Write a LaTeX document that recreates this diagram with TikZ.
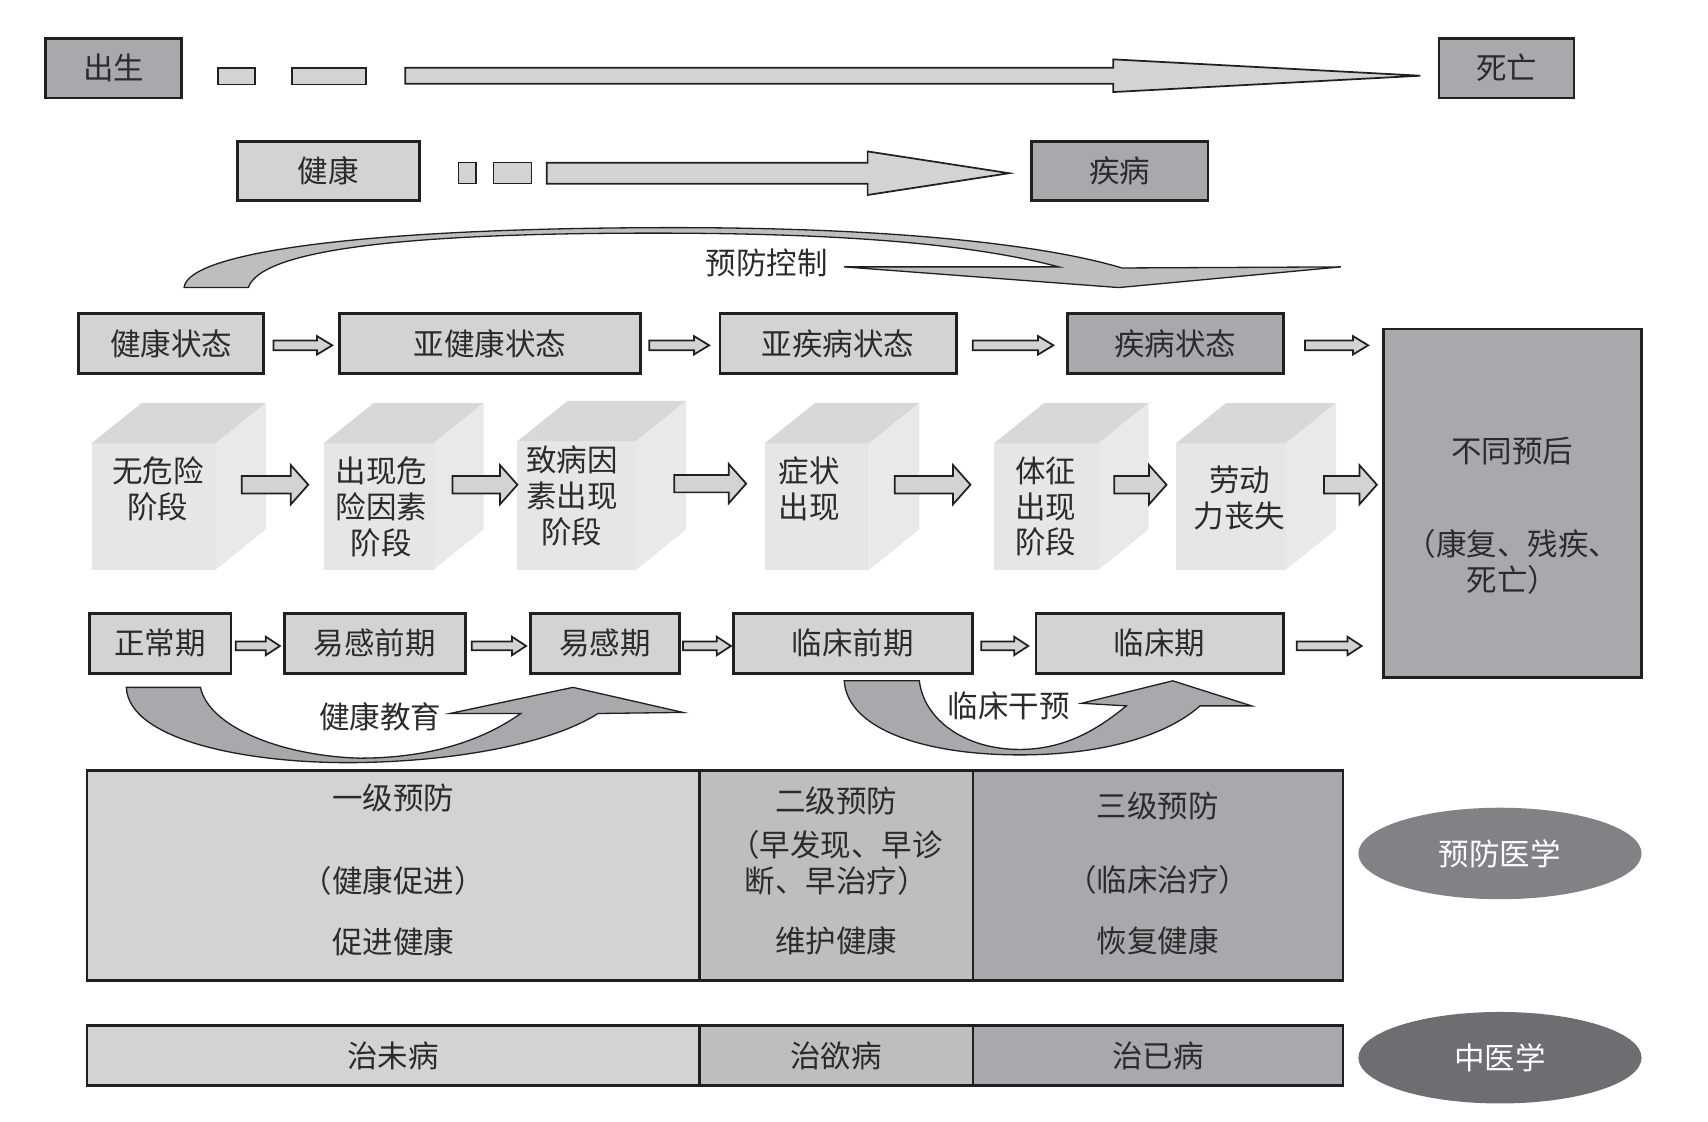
\documentclass[tikz,border=0pt]{standalone}
\usepackage{fontspec}
\usepackage{tikz}
\usetikzlibrary{arrows.meta,positioning,calc,shapes.geometric}
\newfontfamily\cjk{Noto Sans CJK SC}
\definecolor{lineblk}{HTML}{231F20}
\definecolor{txt}{HTML}{2B2B2B}
\definecolor{boxlight}{HTML}{D1D3D4}
\definecolor{boxsoft}{HTML}{BCBEC0}
\definecolor{boxmid}{HTML}{A7A9AC}
\definecolor{cubefront}{HTML}{E5E6E7}
\definecolor{cubetop}{HTML}{D7D8DA}
\definecolor{cubeside}{HTML}{E8E9EA}
\definecolor{ovalA}{HTML}{808285}
\definecolor{ovalB}{HTML}{6D6E71}

\begin{document}
\begin{tikzpicture}[
    x=0.5pt,y=-0.5pt,
    every node/.style={font=\cjk\fontsize{14pt}{16.5pt}\selectfont,text=txt},
    box/.style={draw=lineblk,line width=1.3pt,fill=boxlight,minimum height=27.5pt,inner sep=0pt,outer sep=0pt,align=center},
    darkbox/.style={box,fill=boxmid},
    cell/.style={draw=lineblk,line width=1.1pt,inner sep=0pt,outer sep=0pt,align=center},
    cube/.style={fill=cubefront,minimum height=58pt,inner sep=0pt,outer sep=0pt},
    cubetxt/.style={align=center},
    oval/.style={ellipse,minimum width=130pt,minimum height=42pt,inner sep=0pt,text=white},
    bar/.style={draw=lineblk,line width=0.7pt,fill=boxlight},
    blockarr/.style n args={3}{draw=lineblk,line width=0.8pt,fill=boxlight,
        to path={let \p1=(\tikztostart),\p2=(\tikztotarget) in
            (\x1,\y1+#1) -- (\x2-#3,\y1+#1) -- (\x2-#3,\y1+#2) -- (\x2,\y1)
            -- (\x2-#3,\y1-#2) -- (\x2-#3,\y1-#1) -- (\x1,\y1-#1) -- cycle}},
    smallarr/.style={blockarr={2.25pt}{4.25pt}{7pt}},
    periodarr/.style={blockarr={2pt}{4.25pt}{6.5pt}},
    stagearr/.style={blockarr={4pt}{9pt}{8pt}},
    fatarr/.style={draw=lineblk,line width=0.6pt,fill=boxmid},
    softarr/.style={fatarr,fill=boxsoft}
]
\useasboundingbox (0,0) rectangle (1568,1030);

\node[darkbox,minimum width=62.5pt] (birth) at (104.5,62.5) {出生};
\node[darkbox,minimum width=62pt] (death) at (1383,62.5) {死亡};
\draw[bar] ($(birth.east)+(33,0)$) rectangle ++(34,15);
\draw[bar] ($(birth.east)+(101,0)$) rectangle ++(68,15);
\draw[blockarr={3.65pt}{7.5pt}{141pt}] ($(birth.east)+(205,7)$) to ($(death.west)+(-17,7)$);

\node[box,minimum width=83.5pt,minimum height=27pt] (health) at (301.5,157) {健康};
\node[darkbox,minimum width=81pt,minimum height=27pt] (disease) at (1028,157) {疾病};
\draw[bar] ($(health.east)+(36,-8)$) rectangle ++(16,19.5);
\draw[bar] ($(health.east)+(68,-8)$) rectangle ++(35,19.5);
\draw[blockarr={4.85pt}{10pt}{65pt}] ($(health.east)+(117,2)$) to ($(disease.west)+(-20.5,2)$);

\filldraw[softarr] (169,264) .. controls (172,232) and (330,210) .. (600,209)
    .. controls (820,208) and (960,225) .. (1030,246)
    -- (1231,245) -- (1027,264) -- (775,245) -- (972,245)
    .. controls (900,226) and (790,214) .. (600,214)
    .. controls (380,214) and (240,228) .. (228,264) -- cycle;
\node (ctrl) at (704,241) {预防控制};

\node[box,minimum width=85pt] (s1) at (157,315.5) {健康状态};
\node[box,minimum width=138pt,right=35pt of s1] (s2) {亚健康状态};
\node[box,minimum width=108.5pt,right=36.5pt of s2] (s3) {亚疾病状态};
\node[darkbox,minimum width=99pt,right=51pt of s3] (s4) {疾病状态};
\node[darkbox,minimum width=118.5pt,minimum height=160pt] (prog) at (1388.5,462)
    {\rule{0pt}{23pt}不同预后\\[26pt]（康复、残疾、\\死亡）};
\foreach \a/\b/\g/\h in {s1/s2/9/7,s2/s3/8/10,s3/s4/15/13,s4/prog/20/14}
    \draw[smallarr] ($(\a.east)+(\g,1.5)$) to ($(\b.west)+(-\h,0)$);

\node[cube,minimum width=57pt] (c1) at (141,465) {};
\node[cube,minimum width=50.5pt] (c2) at (347.5,465) {};
\node[cube,minimum width=54.5pt,minimum height=59pt] (c3) at (529.5,464) {};
\node[cube,minimum width=48pt] (c4) at (750,465) {};
\node[cube,minimum width=48pt] (c5) at (960.5,465) {};
\node[cube,minimum width=50.5pt] (c6) at (1130,465) {};
\foreach \cb in {c1,c2,c3,c4,c5,c6}{
    \fill[cubetop] (\cb.north west) -- ++(46,-37) -- ($(\cb.north east)+(46,-37)$) -- (\cb.north east) -- cycle;
    \fill[cubeside] (\cb.north east) -- ++(46,-37) -- ($(\cb.south east)+(46,-37)$) -- (\cb.south east) -- cycle;
}
\node[cubetxt] at ($(c1)+(4,-16.5)$) {无危险\\阶段};
\node[cubetxt] at ($(c2)+(2.5,0)$) {出现危\\险因素\\阶段};
\node[cubetxt] at ($(c3)+(-4.5,-8.5)$) {致病因\\素出现\\阶段};
\node[cubetxt] at ($(c4)+(-7,-16.5)$) {症状\\出现};
\node[cubetxt] at ($(c5)+(-0.5,0)$) {体征\\出现\\阶段};
\node[cubetxt] at ($(c6)+(8,-8)$) {劳动\\力丧失};
\foreach \a/\b/\g/\h in {c1/c2/24/14,c2/c3/17.5/0,c3/c4/35/17,c4/c5/23.4/21.6,c5/c6/14.5/8.6,c6/prog/35/6}
    \draw[stagearr] ($(\a.east)+(\g,-20)$) to ($(\b.west)+(-\h,0)$);

\node[box,minimum width=65pt] (p1) at (147,590.5) {正常期};
\node[box,minimum width=83pt,right=24.5pt of p1] (p2) {易感前期};
\node[box,minimum width=68.5pt,right=30pt of p2] (p3) {易感期};
\node[box,minimum width=110pt,right=24.5pt of p3] (p4) {临床前期};
\node[box,minimum width=113.5pt,right=29pt of p4] (p5) {临床期};
\foreach \a/\b/\g/\h in {p1/p2/4.5/4,p2/p3/6/4,p3/p4/3/2,p4/p5/7.7/7,p5/prog/12.5/20}
    \draw[periodarr] ($(\a.east)+(\g,2.5)$) to ($(\b.west)+(-\h,0)$);

\filldraw[fatarr] (116,631) .. controls (118,680) and (230,702) .. (332,700)
    .. controls (430,698) and (510,680) .. (549,655)
    -- (627,654) -- (526,631) -- (413,655) -- (478,655)
    .. controls (440,682) and (390,696) .. (330,696)
    .. controls (260,694) and (192,668) .. (184,631) -- cycle;
\node (edu) at (349,658) {健康教育};
\filldraw[fatarr] (775,625) .. controls (778,670) and (850,693) .. (936,693)
    .. controls (1020,693) and (1075,672) .. (1101.6,648)
    -- (1149,648) -- (1076.6,625) -- (993,645.6) -- (1034,648)
    .. controls (1005,672) and (975,688) .. (936,688)
    .. controls (885,688) and (848,660) .. (844,625) -- cycle;
\node (clin) at (926,648) {临床干预};

\node[cell,fill=boxlight,minimum width=281pt,minimum height=96.25pt] (prim) at (361,803.75)
    {一级预防\\[21.5pt]（健康促进）\\[11.75pt]促进健康\rule[-6pt]{0pt}{0pt}};
\node[cell,fill=boxsoft,minimum width=125.5pt,minimum height=96.25pt,right=0pt of prim] (sec)
    {二级预防\\[3.5pt]（早发现、早诊\\断、早治疗）\\[11.25pt]维护健康\rule[-5pt]{0pt}{0pt}};
\node[cell,fill=boxmid,minimum width=170pt,minimum height=96.25pt,right=0pt of sec] (tert)
    {三级预防\\[17.25pt]（临床治疗）\\[11.75pt]恢复健康\rule[-3pt]{0pt}{0pt}};
\node[oval,fill=ovalA] (prevmed) at (1377,783.5) {预防医学};

\node[cell,fill=boxlight,minimum width=281pt,minimum height=27.5pt] (tcm1) at (361,969) {治未病};
\node[cell,fill=boxsoft,minimum width=125.5pt,minimum height=27.5pt,right=0pt of tcm1] (tcm2) {治欲病};
\node[cell,fill=boxmid,minimum width=170pt,minimum height=27.5pt,right=0pt of tcm2] (tcm3) {治已病};
\node[oval,fill=ovalB] (tcm) at (1377,971) {中医学};
\end{tikzpicture}
\end{document}
